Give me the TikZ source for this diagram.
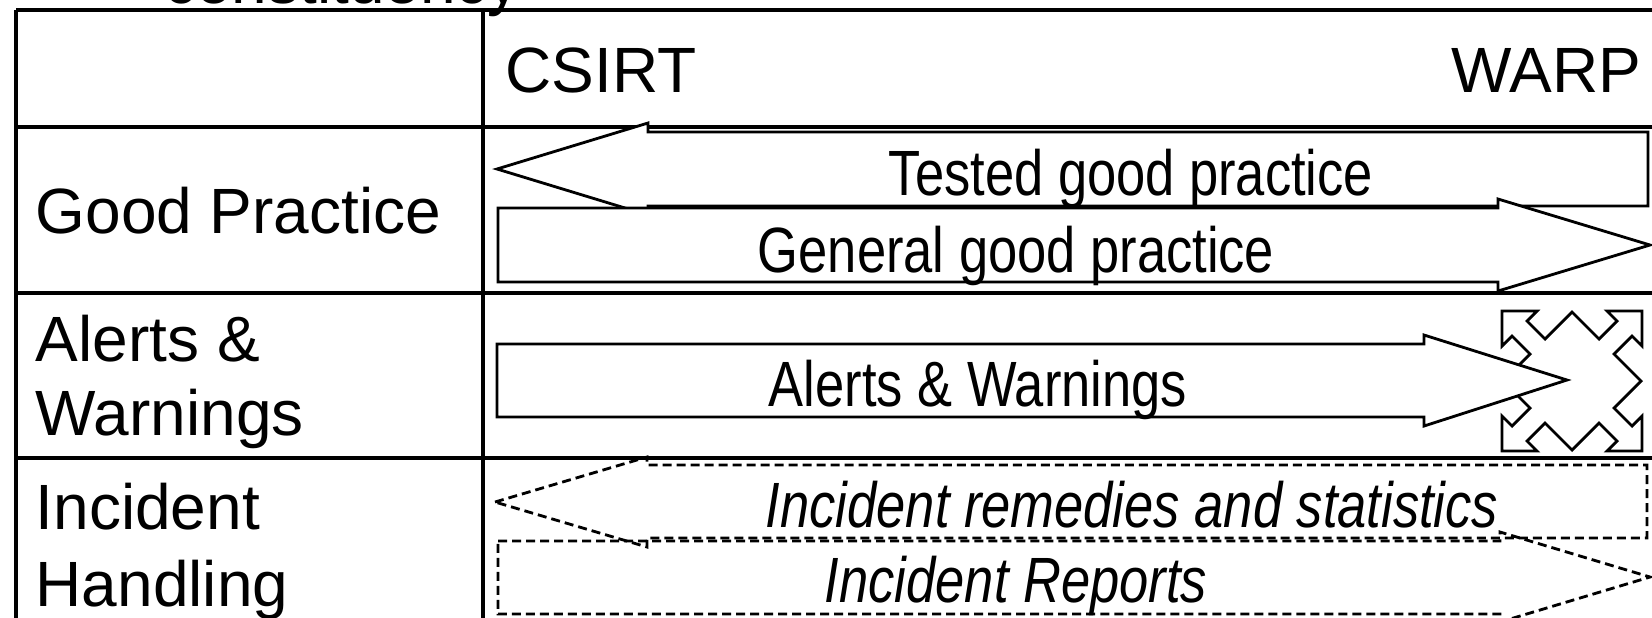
\documentclass[tikz,border=0pt]{standalone}
\usepackage{fontspec}
\setmainfont{Liberation Sans}
\newfontfamily\narrowfont[FakeStretch=0.82]{Liberation Sans}
\begin{document}
\begin{tikzpicture}[x=0.01cm,y=-0.01cm,
    grid/.style={line width=0.9pt},
    solidarrow/.style={line width=0.8pt,fill=white,line join=miter},
    dasharrow/.style={line width=0.8pt,dash pattern=on 0.09cm off 0.05cm},
    rowlabel/.style={anchor=base west,inner sep=0pt,font=\fontsize{18.2}{21}\selectfont},
    arrowlabel/.style={anchor=base,inner sep=0pt,font=\narrowfont\fontsize{18.2}{21}\selectfont}]
\useasboundingbox (0,0) rectangle (1652,617);
\clip (0,0) rectangle (1652,617);

%% table
\draw[grid] (16,10) -- (1660,10);
\draw[grid] (16,10) -- (16,630);
\draw[grid] (483,10) -- (483,630);
\foreach \y in {127,293,458}{
    \draw[grid] (16,\y) -- (1660,\y);
}
\node[rowlabel,anchor=base] (constit) at (342,3) {constituency};
\node[rowlabel] (csirt) at (505,92) {CSIRT};
\node[rowlabel,anchor=base east] (warp) at (1642,92) {WARP};
\node[rowlabel] (goodprac) at (35,233) {Good Practice};
\node[rowlabel] (alertsA) at (35,361) {Alerts \&};
\node[rowlabel] (alertsB) at (35,435) {Warnings};
\node[rowlabel] (incidA) at (35,529) {Incident};
\node[rowlabel] (incidB) at (35,606) {Handling};

%% good practice
\draw[solidarrow] (497,169) -- (648,123) -- (648,132) -- (1648,132) -- (1648,206)
    -- (648,206) -- (648,215) -- cycle;
\draw[solidarrow] (498,208) -- (1498,208) -- (1498,199) -- (1650,245) -- (1498,291)
    -- (1498,282) -- (498,282) -- cycle;
\node[arrowlabel] (tested) at (1131,195) {Tested good practice};
\node[arrowlabel] (general) at (1016,272) {General good practice};

%% alerts & warnings
\begin{scope}[shift={(1572,381)}]
\draw[line width=0.8pt,line join=miter]
    (-70,-70) -- (-35,-70) -- (-45,-60) -- (-27,-42) -- (0,-69) -- (27,-42) -- (45,-60) -- (35,-70)
 -- (70,-70) -- (70,-35) -- (60,-45) -- (42,-27) -- (69,0) -- (42,27) -- (60,45) -- (70,35)
 -- (70,70) -- (35,70) -- (45,60) -- (27,42) -- (0,69) -- (-27,42) -- (-45,60) -- (-35,70)
 -- (-70,70) -- (-70,35) -- (-60,45) -- (-42,27) -- (-69,0) -- (-42,-27) -- (-60,-45) -- (-70,-35)
 -- cycle;
\end{scope}
\draw[solidarrow] (497,344) -- (1424,344) -- (1424,335) -- (1567,380) -- (1424,426)
    -- (1424,417) -- (497,417) -- cycle;
\node[arrowlabel] (alertwarn) at (978,406) {Alerts \& Warnings};

%% incident handling
\draw[dasharrow] (495,502) -- (647,457) -- (647,465) -- (1647,465) -- (1647,538)
    -- (647,538) -- (647,547) -- cycle;
\draw[dasharrow] (498,541) -- (1500,541) -- (1500,532) -- (1650,577) -- (1500,622)
    -- (1500,614) -- (498,614) -- cycle;
\node[arrowlabel,font=\narrowfont\itshape\fontsize{18.2}{21}\selectfont] (remedies) at (1132,527) {Incident remedies and statistics};
\node[arrowlabel,font=\narrowfont\itshape\fontsize{18.2}{21}\selectfont] (reports) at (1016,602) {Incident Reports};
\end{tikzpicture}
\end{document}
